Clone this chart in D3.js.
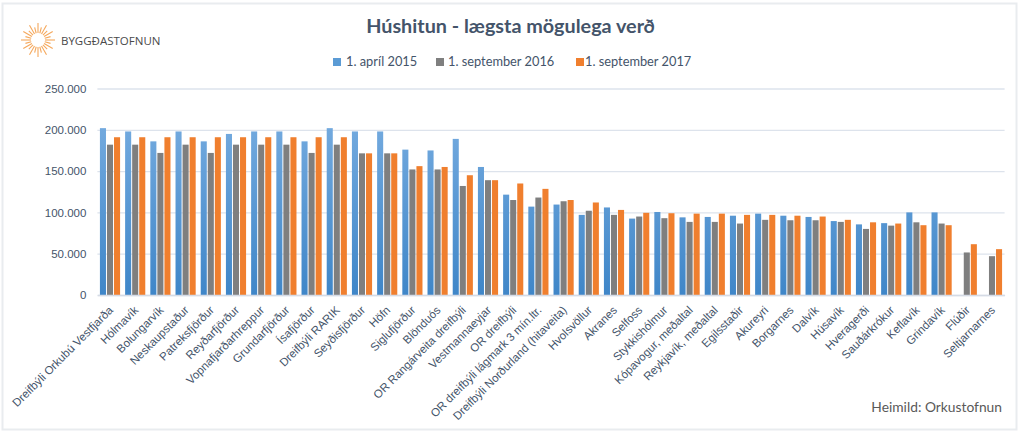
<!doctype html>
<html lang="is">

<head>
    <meta charset="utf-8">
    <script src="https://d3js.org/d3.v7.min.js"></script>
    <style>
        html, body { margin: 0; padding: 0; background: #fff; }
        svg { display: block; font-family: Lato, "Open Sans", sans-serif; }
    </style>
</head>

<body>
    <div id="my_dataviz"></div>
    <script>
        var categories = ["Dreifbýli Orkubú Vestfjarða", "Hólmavík", "Bolungarvík", "Neskaupstaður", "Patreksfjörður",
            "Reyðarfjörður", "Vopnafjarðarhreppur", "Grundarfjörður", "Ísafjörður", "Dreifbýli RARIK", "Seyðisfjörður",
            "Höfn", "Siglufjörður", "Blönduós", "OR Rangárveita dreifbýli", "Vestmannaeyjar", "OR dreifbýli",
            "OR dreifbýli lágmark 3 mín.ltr.", "Dreifbýli Norðurland (hitaveita)", "Hvolsvöllur", "Akranes", "Selfoss",
            "Stykkishólmur", "Kópavogur, meðaltal", "Reykjavík, meðaltal", "Egilsstaðir", "Akureyri", "Borgarnes",
            "Dalvík", "Húsavík", "Hveragerði", "Sauðárkrókur", "Keflavík", "Grindavík", "Flúðir", "Seltjarnarnes"];

        var apr2015 = [202000, 198000, 186000, 198000, 186000, 195000, 198000, 198000, 186000, 202000, 198000,
            198000, 176000, 175000, 189000, 155000, 121500, 107000, 109500, 97000, 106000, 92500,
            100500, 94000, 94500, 96000, 98500, 96000, 94500, 89500, 85500, 87000, 100000, 100000, null, null];
        var sep2016 = [182000, 182000, 172000, 182000, 172000, 182000, 182000, 182000, 172000, 182000, 171500,
            171500, 152000, 152000, 132000, 139000, 115000, 118000, 113500, 102000, 97000, 95000,
            93000, 88500, 88500, 86500, 91000, 90500, 90500, 88500, 80000, 84000, 88000, 86500, 51500, 47000];
        var sep2017 = [191000, 191000, 191000, 191000, 191000, 191000, 191000, 191000, 191000, 191000, 171500,
            171500, 156000, 155000, 145000, 139000, 135000, 128500, 115000, 112000, 103000, 99500,
            99000, 98500, 98500, 97000, 97000, 96000, 95000, 91000, 88000, 86500, 84500, 84500, 61500, 55500];

        var seriesNames = ["1. apríl 2015", "1. september 2016", "1. september 2017"];
        var seriesValues = [apr2015, sep2016, sep2017];
        var seriesFill = ["url(#blueFade)", "#7f7f7f", "#f07f2e"];
        var legendSwatch = ["#5b9bd5", "#7f7f7f", "#f07f2e"];
        var yTicks = [0, 50000, 100000, 150000, 200000, 250000];

        var textColor = "#44546a";
        var width = 1019, height = 432;

        var svg = d3.select("#my_dataviz")
            .append("svg")
            .attr("width", width)
            .attr("height", height);

        // blue bars fade from light at the top to darker at the base
        var grad = svg.append("defs").append("linearGradient")
            .attr("id", "blueFade")
            .attr("gradientUnits", "userSpaceOnUse")
            .attr("x1", 0).attr("x2", 0).attr("y1", 128).attr("y2", 295);
        grad.append("stop").attr("offset", "0%").attr("stop-color", "#72a9de");
        grad.append("stop").attr("offset", "100%").attr("stop-color", "#3f86c8");

        // pale frame round the picture
        svg.append("rect")
            .attr("x", 2.5).attr("y", 3.5)
            .attr("width", width - 5).attr("height", height - 6)
            .attr("fill", "#fff")
            .attr("stroke", "#e9ecef")
            .attr("stroke-width", 2);

        var x = d3.scaleBand()
            .domain(categories)
            .range([97.4, 1004.6])
            .paddingInner(0.2)
            .paddingOuter(0.1);

        var xInner = d3.scaleBand()
            .domain(d3.range(seriesNames.length))
            .range([0, x.bandwidth()])
            .paddingInner(0.14);

        var y = d3.scaleLinear()
            .domain([0, 250000])
            .range([295, 88.5]);

        // Y axis with gridlines, no domain line
        var yAxis = svg.append("g")
            .attr("transform", "translate(97.4,0)")
            .call(d3.axisLeft(y)
                .tickValues(yTicks)
                .tickSize(-907.2)
                .tickPadding(11)
                .tickFormat(function (d) { return d3.format(",")(d).replace(/,/g, "."); }));
        yAxis.select(".domain").remove();
        yAxis.selectAll(".tick line").attr("stroke", "#dde3ec").attr("stroke-width", 1.3);
        yAxis.selectAll(".tick text")
            .attr("fill", textColor)
            .style("font-size", "11.5px");

        // bars, the two missing 2015 values are left out
        seriesValues.forEach(function (values, s) {
            var rows = categories
                .map(function (c, i) { return { cat: c, value: values[i] }; })
                .filter(function (d) { return d.value !== null; });
            svg.append("g")
                .selectAll("rect")
                .data(rows)
                .enter()
                .append("rect")
                .attr("x", function (d) { return x(d.cat) + xInner(s); })
                .attr("y", function (d) { return y(d.value); })
                .attr("width", xInner.bandwidth())
                .attr("height", function (d) { return y(0) - y(d.value); })
                .attr("fill", seriesFill[s]);
        });

        // X axis, labels turned 45 degrees
        var xAxis = svg.append("g")
            .attr("transform", "translate(0,295)")
            .call(d3.axisBottom(x).tickSize(0).tickPadding(0));
        xAxis.select(".domain").attr("stroke", "#d5dbe5").attr("stroke-width", 1.3);
        xAxis.selectAll(".tick text")
            .attr("fill", textColor)
            .style("font-size", "11.5px")
            .style("text-anchor", "end")
            .attr("dy", "0.35em")
            .attr("transform", "translate(1,13) rotate(-45)");

        svg.append("text")
            .attr("x", 510.5).attr("y", 33)
            .attr("text-anchor", "middle")
            .attr("fill", textColor)
            .style("font-size", "19.8px")
            .style("font-weight", "bold")
            .text("Húshitun - lægsta mögulega verð");

        // legend
        var legendX = [333, 436, 576];
        var legendTextX = [346, 448, 585];
        var legend = svg.append("g")
            .selectAll("g")
            .data(seriesNames)
            .enter()
            .append("g");
        legend.append("rect")
            .attr("x", function (d, i) { return legendX[i]; })
            .attr("y", 58)
            .attr("width", 8).attr("height", 8)
            .attr("fill", function (d, i) { return legendSwatch[i]; });
        legend.append("text")
            .attr("x", function (d, i) { return legendTextX[i]; })
            .attr("y", 65.5)
            .attr("fill", textColor)
            .style("font-size", "12.8px")
            .text(function (d) { return d; });

        // logo: orange sun and the name
        var logo = svg.append("g").attr("transform", "translate(38,40)");
        logo.selectAll("line")
            .data(d3.range(24))
            .enter()
            .append("line")
            .attr("x1", function (d) { return 7 * Math.cos(d * Math.PI / 12); })
            .attr("y1", function (d) { return 7 * Math.sin(d * Math.PI / 12); })
            .attr("x2", function (d) { return (d % 2 ? 13 : 17) * Math.cos(d * Math.PI / 12); })
            .attr("y2", function (d) { return (d % 2 ? 13 : 17) * Math.sin(d * Math.PI / 12); })
            .attr("stroke", "#f5a85c")
            .attr("stroke-width", 1.1);
        svg.append("text")
            .attr("x", 61).attr("y", 44.5)
            .attr("fill", "#4a4a4a")
            .style("font-size", "11.5px")
            .style("font-family", "'Open Sans', sans-serif")
            .text("BYGGÐASTOFNUN");

        svg.append("text")
            .attr("x", 1002).attr("y", 412)
            .attr("text-anchor", "end")
            .attr("fill", "#595959")
            .style("font-size", "13.8px")
            .text("Heimild: Orkustofnun");
    </script>
</body>

</html>
